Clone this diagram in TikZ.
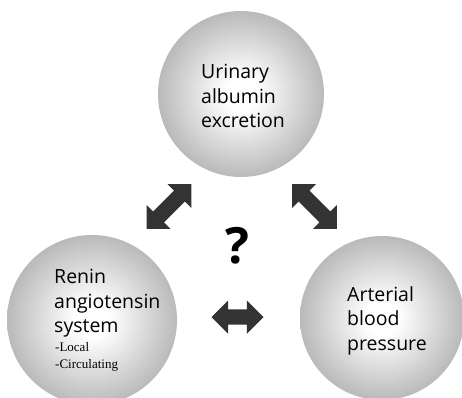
\documentclass[tikz,border=0pt]{standalone}
\usepackage{fontspec}
\setmainfont{Open Sans}
\newfontfamily\smallserif{Liberation Serif}
\usetikzlibrary{shapes.arrows}
\pgfdeclareradialshading{ballshade}{\pgfpoint{0bp}{0bp}}{color(0bp)=(white); color(5bp)=(white); color(30bp)=(gray!68); color(50bp)=(gray!78); color(100bp)=(gray!78)}
\tikzset{
  ball/.style={circle, shading=ballshade, inner sep=0pt, draw=none},
  label text/.style={inner sep=0pt, align=left, anchor=north west, font=\fontsize{19.5}{24.5}\selectfont, text=black},
  sub text/.style={inner sep=0pt, align=left, anchor=north west, font=\smallserif\fontsize{13}{17}\selectfont},
  fatarrow/.style={double arrow, fill=black!80, draw=none, inner sep=7.5pt, double arrow head extend=9pt, minimum height=#1},
}
\begin{document}
\begin{tikzpicture}[x=1pt,y=-1pt]
\useasboundingbox (0,0) rectangle (462,397);
\clip (0,0) rectangle (462,397);
\fill[white] (0,0) rectangle (462,397);
\node[ball, minimum size=166pt] (uae) at (241,94) {};
\node[ball, minimum size=170pt] (ras) at (92,320) {};
\node[ball, minimum size=164pt] (abp) at (382,318) {};
\node[label text] (uaet) at (201,64) {Urinary\\albumin\\excretion};
\node[label text] (rast) at (54,269) {Renin\\angiotensin\\system};
\node[sub text] (rass) at (55,342) {-Local\\-Circulating};
\node[label text] (abpt) at (347,286) {Arterial\\blood\\pressure};
\node[font=\fontsize{50}{50}\selectfont\bfseries, inner sep=0pt] (q) at (237,246) {?};
\node[fatarrow=63pt, rotate=45] (a1) at (169,206.5) {};
\node[fatarrow=63pt, rotate=-45] (a2) at (314.5,206.5) {};
\node[fatarrow=52pt] (a3) at (237.5,317) {};
\end{tikzpicture}
\end{document}
